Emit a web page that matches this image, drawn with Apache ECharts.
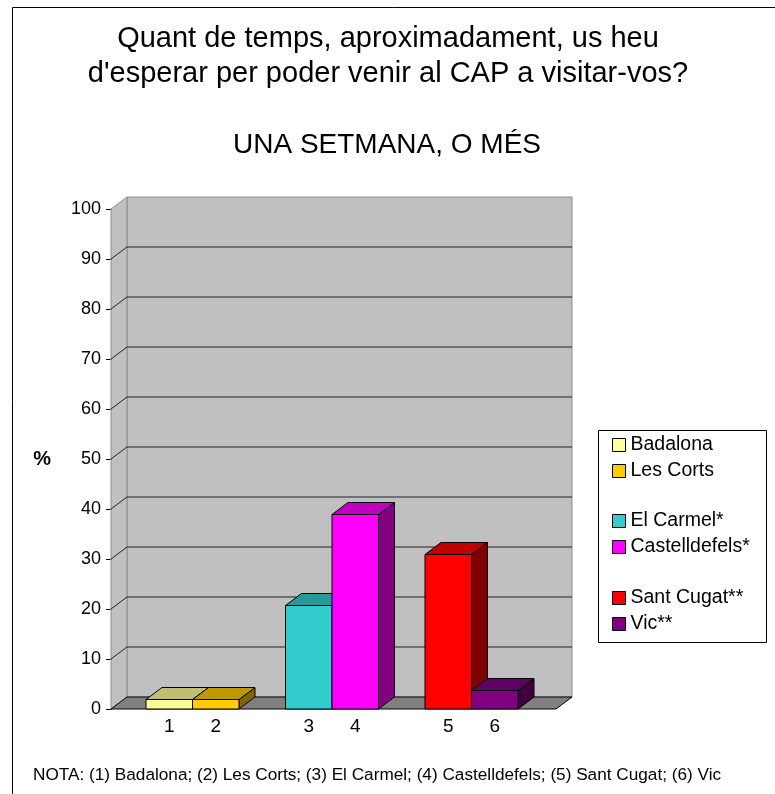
<!DOCTYPE html>
<html style="height: 100%">
<head>
	<meta charset="utf-8">
	<script type="text/javascript" src="https://cdn.jsdelivr.net/npm/echarts@6/dist/echarts.min.js"></script>
	<style>
	body{
		margin:0;
		background:#fff;
	}
	</style>
</head>
<body style="height: 100%; margin: 0">
	<div id="container" style="width:775px; height:794px"></div>
	<script>
	// dades
	var categories = ['1', '2', '', '3', '4', '', '5', '6'];
	var barLabels = ['1', '2', '3', '4', '5', '6'];
	var centres = ['Badalona', 'Les Corts', 'El Carmel*', 'Castelldefels*', 'Sant Cugat**', 'Vic**'];
	var values = [1.9, 1.9, 20.7, 38.9, 30.9, 3.7];
	var colors = ['#FFFF99', '#FFCC00', '#33CCCC', '#FF00FF', '#FF0000', '#800080'];

	var FONT = 'Liberation Sans, Arial, sans-serif';
	var DX = 16, DY = -12;

	function shade(hex, f) {
		var n = parseInt(hex.slice(1), 16);
		var r = Math.round(((n >> 16) & 255) * f);
		var g = Math.round(((n >> 8) & 255) * f);
		var b = Math.round((n & 255) * f);
		return 'rgb(' + r + ',' + g + ',' + b + ')';
	}

	// parets, terra i linies de la graella
	function renderWalls(params, api) {
		var cs = params.coordSys;
		var x0 = cs.x - 35, x1 = cs.x + cs.width + 38;
		var yb = cs.y + cs.height, yt = cs.y;
		var kids = [];
		kids.push({type: 'rect', shape: {x: x0 + DX, y: yt + DY, width: x1 - x0, height: yb - yt},
			style: {fill: '#c0c0c0', stroke: '#8c8c8c', lineWidth: 1}});
		kids.push({type: 'polygon', shape: {points: [[x0, yb], [x0, yt], [x0 + DX, yt + DY], [x0 + DX, yb + DY]]},
			style: {fill: '#c0c0c0', stroke: '#8c8c8c', lineWidth: 1}});
		for (var v = 10; v < 100; v += 10) {
			var y = api.coord([0, v])[1];
			kids.push({type: 'polyline', shape: {points: [[x0, y], [x0 + DX, y + DY], [x1 + DX, y + DY]]},
				style: {stroke: '#222', lineWidth: 1, fill: null}});
		}
		kids.push({type: 'polygon', shape: {points: [[x0, yb], [x1, yb], [x1 + DX, yb + DY], [x0 + DX, yb + DY]]},
			style: {fill: '#808080', stroke: '#000', lineWidth: 1}});
		return {type: 'group', children: kids};
	}

	function renderBar(params, api) {
		var x = api.value(0), v = api.value(1);
		var top = api.coord([x, v]);
		var base = api.coord([x, 0]);
		var w = api.size([1, 0])[0];
		var l = top[0] - w / 2, r = top[0] + w / 2;
		var t = top[1], b = base[1];
		var c = api.visual('color');
		return {type: 'group', children: [
			{type: 'polygon', shape: {points: [[r, t], [r, b], [r + DX, b + DY], [r + DX, t + DY]]},
				style: {fill: shade(c, 0.5), stroke: '#000', lineWidth: 1}},
			{type: 'polygon', shape: {points: [[l, t], [r, t], [r + DX, t + DY], [l + DX, t + DY]]},
				style: {fill: shade(c, 0.75), stroke: '#000', lineWidth: 1}},
			{type: 'rect', shape: {x: l, y: t, width: w, height: b - t},
				style: {fill: c, stroke: '#000', lineWidth: 1}}
		]};
	}

	var series = [{
		type: 'custom',
		silent: true,
		renderItem: renderWalls,
		data: [[0, 0]],
		z: 1
	}];
	for (var i = 0; i < centres.length; i++) {
		series.push({
			name: centres[i],
			type: 'custom',
			renderItem: renderBar,
			itemStyle: {color: colors[i], borderColor: '#000', borderWidth: 1},
			data: [[categories.indexOf(barLabels[i]), values[i]]],
			z: 2
		});
	}

	function legendBlock(names, top) {
		return {
			data: names,
			orient: 'vertical',
			left: 612,
			top: top,
			padding: 0,
			itemWidth: 13,
			itemHeight: 13,
			itemGap: 6,
			icon: 'rect',
			selectedMode: false,
			itemStyle: {borderColor: '#000', borderWidth: 1},
			textStyle: {fontSize: 19.5, lineHeight: 20, color: '#000', fontFamily: FONT}
		};
	}

	var myChart = echarts.init(document.getElementById('container'));
	var option = {
		animation: false,
		title: [
			{
				text: 'Quant de temps, aproximadament, us heu',
				left: 388,
				top: 22,
				textAlign: 'center',
				padding: 0,
				textStyle: {fontSize: 29, fontWeight: 'normal', color: '#000', lineHeight: 34, fontFamily: FONT}
			},
			{
				text: "d'esperar per poder venir al CAP a visitar-vos?",
				left: 388,
				top: 57,
				textAlign: 'center',
				padding: 0,
				textStyle: {fontSize: 29, fontWeight: 'normal', color: '#000', lineHeight: 34, fontFamily: FONT}
			},
			{
				text: 'UNA SETMANA, O MÉS',
				left: 387,
				top: 128,
				textAlign: 'center',
				padding: 0,
				textStyle: {fontSize: 28, fontWeight: 'normal', color: '#000', lineHeight: 34, fontFamily: FONT}
			},
			{
				text: 'NOTA: (1) Badalona; (2) Les Corts; (3) El Carmel; (4) Castelldefels; (5) Sant Cugat; (6) Vic',
				left: 33,
				top: 766,
				padding: 0,
				textStyle: {fontSize: 17.2, fontWeight: 'normal', color: '#000', lineHeight: 18, fontFamily: FONT}
			}
		],
		legend: [
			legendBlock([centres[0], centres[1]], 435),
			legendBlock([centres[2], centres[3]], 511),
			legendBlock([centres[4], centres[5]], 588)
		],
		grid: {left: 146, right: 257, top: 209, bottom: 85},
		xAxis: {
			type: 'category',
			data: categories,
			boundaryGap: true,
			axisLine: {show: false},
			axisTick: {show: false},
			axisLabel: {interval: 0, fontSize: 19, color: '#000', margin: 8, fontFamily: FONT}
		},
		yAxis: {
			type: 'value',
			min: 0,
			max: 100,
			interval: 10,
			offset: 35,
			name: '%',
			nameLocation: 'middle',
			nameRotate: 0,
			nameGap: 60,
			nameTextStyle: {fontSize: 20, fontWeight: 'bold', color: '#000', fontFamily: FONT},
			axisLine: {show: true, lineStyle: {color: '#000', width: 1}},
			axisTick: {show: true, length: 5, lineStyle: {color: '#000'}},
			axisLabel: {fontSize: 18, color: '#000', margin: 10, fontFamily: FONT},
			splitLine: {show: false}
		},
		graphic: [
			{type: 'polyline', shape: {points: [[12.5, 794], [12.5, 7.5], [775, 7.5]]},
				style: {stroke: '#000', lineWidth: 1, fill: null}},
			{type: 'rect', shape: {x: 598.5, y: 430.5, width: 168, height: 212},
				style: {fill: null, stroke: '#000', lineWidth: 1}, z: 0}
		],
		series: series
	};
	myChart.setOption(option);
	</script>
</body>
</html>
